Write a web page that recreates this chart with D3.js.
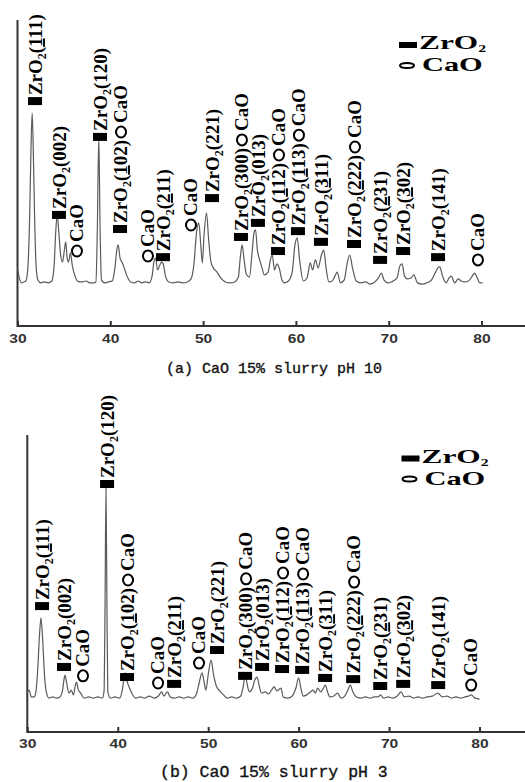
<!DOCTYPE html>
<html>
<head>
<meta charset="utf-8">
<script src="https://cdn.jsdelivr.net/npm/d3@7"></script>
<style>
  body { margin: 0; background: #fff; }
  .lbl { font-family: "Liberation Serif", "Times New Roman", serif; font-weight: bold; font-size: 19px; fill: #000; }
  .tick text { font-family: "Liberation Sans", Arial, sans-serif; font-weight: bold; font-size: 12.5px; fill: #333; }
  .cap { font-family: "Liberation Mono", "Courier New", monospace; fill: #111; stroke: #111; stroke-width: 0.35; }
</style>
</head>
<body>
<svg id="xrd" width="525" height="782"></svg>
<script>
// (a) CaO 15% slurry pH 10 -- 2theta (deg) / intensity (a.u.)
const thetaA = [30.0,30.2,30.4,30.7,30.9,31.1,31.3,31.45,31.58,31.7,31.85,32.0,32.2,32.5,32.9,33.3,33.7,33.95,34.1,34.28,34.45,34.65,34.85,35.05,35.2,35.35,35.5,35.7,35.9,36.2,36.6,37.0,37.4,37.8,38.2,38.45,38.6,38.76,38.9,39.05,39.4,39.8,40.2,40.5,40.7,40.85,41.05,41.3,41.5,41.8,42.2,42.6,43.0,43.4,43.8,44.2,44.5,44.7,44.87,45.1,45.3,45.5,45.7,45.95,46.3,46.8,47.3,47.8,48.3,48.7,49.0,49.3,49.54,49.75,49.92,50.1,50.37,50.6,50.85,51.1,51.5,51.9,52.4,52.9,53.4,53.8,54.0,54.2,54.4,54.65,55.0,55.3,55.5,55.65,55.85,56.1,56.35,56.6,57.0,57.25,57.45,57.7,57.95,58.2,58.5,58.75,59.2,59.6,59.9,60.14,60.4,60.8,61.2,61.55,61.8,62.1,62.4,62.75,63.0,63.25,63.55,63.9,64.2,64.45,64.8,65.2,65.55,65.8,66.1,66.5,67.0,67.5,68.0,68.5,68.9,69.2,69.5,69.9,70.3,70.9,71.2,71.45,71.7,72.0,72.4,72.7,73.1,73.6,74.1,74.6,75.0,75.3,75.5,75.8,76.2,76.5,76.75,77.1,77.5,77.8,78.2,78.6,79.0,79.25,79.55,79.8,80.1];
const intA = [19.0,15.7,14.1,14.4,14.7,18.3,34.6,57.5,69.6,57.5,34.6,19.9,15.0,14.1,14.4,14.1,14.7,19.9,29.7,36.3,30.7,23.2,20.9,24.8,27.5,22.2,20.9,23.9,19.9,16.3,14.4,14.4,14.7,14.1,14.1,14.4,31.4,61.8,31.4,15.0,14.1,14.4,14.7,19.0,24.8,26.5,22.2,20.6,19.0,16.3,14.4,14.1,14.7,14.1,14.4,14.1,16.3,20.9,22.2,18.3,19.6,20.9,20.3,16.3,14.4,14.1,14.4,14.1,14.4,15.4,19.9,30.7,33.7,26.5,20.6,29.7,36.9,28.1,20.9,19.0,17.6,15.7,14.4,14.1,14.4,16.0,22.2,26.5,22.2,17.0,16.0,24.8,30.7,31.4,24.8,21.6,19.0,16.7,17.6,21.6,23.2,18.3,20.3,19.0,15.0,14.1,14.7,17.6,26.5,28.8,21.6,14.7,15.7,20.6,18.3,21.6,19.0,23.2,24.8,19.0,14.4,14.7,16.3,17.6,14.1,15.0,20.9,23.2,19.0,14.7,14.1,14.4,13.7,14.4,15.7,17.3,15.0,14.1,14.4,15.7,19.6,20.3,16.3,15.4,15.7,16.7,14.1,13.7,14.1,15.0,17.3,19.0,19.3,16.3,14.1,15.7,16.3,14.1,15.4,14.7,14.4,14.7,16.3,17.3,15.7,14.1,14.1];

// (b) CaO 15% slurry pH 3
const thetaB = [30.0,30.2,30.45,30.75,30.95,31.15,31.35,31.51,31.7,31.9,32.1,32.4,32.8,33.2,33.6,33.9,34.05,34.17,34.35,34.6,34.85,35.1,35.3,35.45,35.65,35.9,36.3,36.8,37.3,37.8,38.3,38.5,38.6,38.7,38.8,38.9,39.2,39.7,40.2,40.5,40.7,40.84,41.0,41.3,41.6,42.0,42.5,43.0,43.5,44.0,44.5,44.85,45.1,45.5,45.8,46.3,46.8,47.3,47.8,48.3,48.7,49.0,49.32,49.55,49.75,50.0,50.32,50.6,50.9,51.3,51.7,52.1,52.6,53.1,53.6,53.9,54.1,54.3,54.55,54.9,55.15,55.4,55.65,55.9,56.3,56.7,57.0,57.3,57.6,58.05,58.3,58.8,59.3,59.7,60.0,60.25,60.5,60.9,61.3,61.6,61.85,62.1,62.45,62.75,62.96,63.2,63.45,63.9,64.3,64.7,65.1,65.45,65.7,66.0,66.4,66.9,67.4,67.9,68.4,68.8,69.05,69.4,69.9,70.4,70.9,71.33,71.7,72.2,72.7,73.2,73.7,74.2,74.8,75.4,75.9,76.4,76.9,77.4,77.9,78.4,78.8,79.1,79.5,80.0];
const intB = [13.1,14.1,11.8,11.8,13.5,20.9,32.7,38.4,31.0,19.2,13.5,11.4,11.8,11.4,11.8,14.1,17.5,19.2,16.5,13.1,14.1,12.5,15.5,16.8,14.1,13.1,11.4,11.8,11.4,11.8,11.4,14.1,44.4,82.5,44.4,13.5,11.4,11.8,11.4,14.1,18.2,19.9,17.5,14.8,12.8,11.4,11.8,11.4,12.1,11.4,12.1,13.5,12.1,13.5,11.8,11.4,11.8,11.4,11.8,11.4,12.8,16.5,19.9,16.8,14.1,19.2,24.2,19.2,15.5,13.8,12.5,11.4,11.8,11.4,12.1,15.8,19.5,16.2,13.5,14.8,17.5,18.5,15.5,13.1,13.5,12.8,14.1,15.2,13.8,14.8,11.8,11.4,12.1,14.8,18.2,14.8,12.1,12.5,13.5,14.1,13.1,14.8,13.5,14.8,15.8,13.5,11.8,12.1,13.1,11.4,12.1,14.1,15.8,13.5,11.8,11.4,11.8,11.4,11.8,11.8,12.5,11.4,11.8,11.4,12.1,13.5,11.8,12.1,11.4,11.8,11.4,11.8,12.1,13.1,11.8,12.1,11.4,11.8,11.4,11.8,12.1,12.5,11.4,11.1];

const xTicks = [30, 40, 50, 60, 70, 80];

// ZrO2 reflections; a leading "_" marks the underlined index
const hkl = ["_111","002","120","_102","_211","221","300","013","_112","_113","_311","_222","_231","_302","141"];
const withCaO = [false,false,false,true,false,false,true,false,true,true,false,true,false,false,false];
const lblThetaA = [31.89,34.47,38.89,41.05,45.68,50.96,54.08,55.91,58.07,60.22,62.70,66.26,69.07,71.55,75.32];
const lblIntA = [73.5,36.3,61.8,31.7,22.5,41.8,29.1,33.7,24.5,31.0,27.5,26.8,21.6,24.5,22.5];
const lblThetaB = [31.63,34.06,38.82,41.03,46.23,50.98,54.08,55.96,58.17,60.39,62.93,66.03,69.02,71.56,75.43];
const lblIntB = [42.4,21.9,83.5,18.5,16.2,27.6,18.9,21.9,21.2,20.9,18.2,17.8,15.5,16.2,15.8];
// stand-alone CaO marks
const caoThetaA = [36.30, 43.95, 48.59, 79.51];
const caoIntA = [24.5, 22.9, 33.0, 21.6];
const caoThetaB = [36.05, 44.35, 48.88, 78.97];
const caoIntB = [18.9, 16.5, 23.2, 15.8];

const svg = d3.select("#xrd");

function drawLegend(x0, y0) {
  svg.append("rect").attr("x", x0).attr("y", y0).attr("width", 18).attr("height", 6).attr("fill", "#000");
  const t = svg.append("text").attr("class", "lbl").attr("font-size", 13.5)
    .attr("transform", `translate(${x0 + 20},${y0 + 7}) scale(1.65,1)`);
  t.append("tspan").text("ZrO");
  t.append("tspan").attr("dy", 3).attr("font-size", 9.5).text("2");
  svg.append("ellipse").attr("cx", x0 + 8).attr("cy", y0 + 23.5).attr("rx", 7).attr("ry", 2.6)
    .attr("fill", "none").attr("stroke", "#000").attr("stroke-width", 2);
  svg.append("text").attr("class", "lbl").attr("font-size", 13.5)
    .attr("transform", `translate(${x0 + 23},${y0 + 29}) scale(1.6,1)`).text("CaO");
}

function caoMark(g, lx) {
  // marker drawn in the rotated frame
  g.append("ellipse").attr("cx", lx).attr("cy", 1).attr("rx", 5.5).attr("ry", 5)
    .attr("fill", "none").attr("stroke", "#000").attr("stroke-width", 2);
  g.append("text").attr("class", "lbl").attr("x", lx + 9).attr("y", 7).text("CaO");
}

function drawPanel(p) {
  const x = d3.scaleLinear().domain([30, 80]).range(p.xr);
  const y = d3.scaleLinear().domain([0, 100]).range(p.yr);
  const g = svg.append("g");

  // axes
  const ax = g.append("g").attr("transform", `translate(0,${p.yr[0]})`)
    .call(d3.axisBottom(x).tickValues(xTicks).tickSize(-5).tickFormat(d3.format("d")));
  ax.select(".domain").remove();
  ax.selectAll(".tick line").attr("stroke", "#333").attr("stroke-width", 2);
  ax.selectAll(".tick text").attr("y", p.tickY).attr("dy", null).attr("transform", "scale(1.25,1)");
  g.append("line").attr("x1", p.xr[0]).attr("x2", 525).attr("y1", p.yr[0]).attr("y2", p.yr[0])
    .attr("stroke", "#333").attr("stroke-width", 2);
  g.append("line").attr("x1", p.xr[0]).attr("x2", p.xr[0]).attr("y1", p.yr[1]).attr("y2", p.yr[0] + 1)
    .attr("stroke", "#333").attr("stroke-width", 2);

  // pattern
  const pts = p.theta.map((t, i) => [t, p.inten[i]]);
  g.append("path").datum(pts)
    .attr("d", d3.line().x(d => x(d[0])).y(d => y(d[1])).curve(d3.curveMonotoneX))
    .attr("fill", "none").attr("stroke", "#5a5a5a").attr("stroke-width", 1.2);

  // ZrO2 labels
  hkl.forEach((h, i) => {
    const lg = g.append("g").attr("transform", `translate(${x(p.lblTheta[i])},${y(p.lblInt[i])})`);
    lg.append("rect").attr("x", -7).attr("y", -4).attr("width", 14).attr("height", 8).attr("fill", "#000");
    const rg = lg.append("g").attr("transform", "rotate(-90)");
    const t = rg.append("text").attr("class", "lbl").attr("x", 6).attr("y", 7);
    t.append("tspan").text("ZrO");
    t.append("tspan").attr("dy", 4).attr("font-size", 12).text("2");
    t.append("tspan").attr("dy", -4).text("(");
    const under = h[0] === "_";
    const digits = under ? h.slice(1) : h;
    t.append("tspan").style("text-decoration", under ? "underline" : "none").text(digits[0]);
    t.append("tspan").text(digits.slice(1) + ")");
    if (withCaO[i]) {
      const len = t.node().getComputedTextLength();
      caoMark(rg, 6 + len + 8);
    }
  });

  // CaO-only labels
  p.caoTheta.forEach((c, i) => {
    const rg = g.append("g")
      .attr("transform", `translate(${x(c)},${y(p.caoInt[i])}) rotate(-90)`);
    caoMark(rg, 0);
  });

  svg.append("text").attr("class", "cap").attr("x", p.capX).attr("y", p.capY)
    .attr("font-size", p.capSize).text(p.caption);
}

drawPanel({
  xr: [17.5, 481.5], yr: [326, 20], tickY: 17,
  theta: thetaA, inten: intA,
  lblTheta: lblThetaA, lblInt: lblIntA,
  caoTheta: caoThetaA, caoInt: caoIntA,
  caption: "(a) CaO 15% slurry pH 10", capX: 166, capY: 373, capSize: 15
});
drawPanel({
  xr: [27.3, 479.5], yr: [732, 435], tickY: 16,
  theta: thetaB, inten: intB,
  lblTheta: lblThetaB, lblInt: lblIntB,
  caoTheta: caoThetaB, caoInt: caoIntB,
  caption: "(b) CaO 15% slurry pH 3", capX: 160, capY: 777, capSize: 16.5
});
drawLegend(399, 42);
drawLegend(401.5, 455.5);
</script>
</body>
</html>
